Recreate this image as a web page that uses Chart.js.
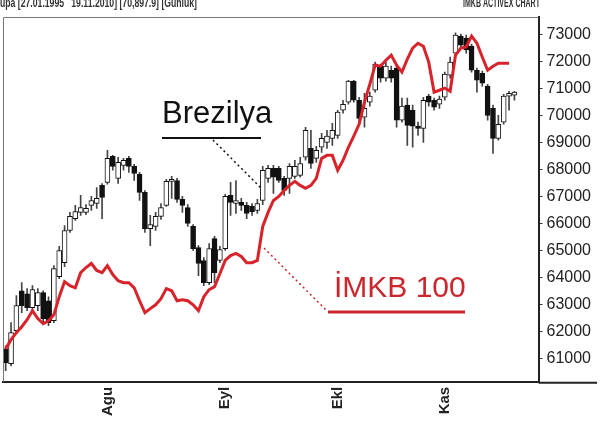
<!DOCTYPE html>
<html>
<head>
<meta charset="utf-8">
<script src="https://cdn.jsdelivr.net/npm/chart.js@4"></script>
<style>
  html, body { margin: 0; padding: 0; background: #fff; }
  #wrap { width: 600px; height: 423px; position: relative; }
</style>
</head>
<body>
<div id="wrap"><canvas id="chart"></canvas></div>
<script>
// trading-day slots on the x axis, month names at first day of month
const slotCount = 100;
const monthTicks = [[19, 'Agu'], [41, 'Eyl'], [62, 'Ekl'], [82, 'Kas']];

// price axis labels
const yTicks = [61000, 62000, 63000, 64000, 65000, 66000, 67000, 68000, 69000, 70000, 71000, 72000, 73000];

// Brezilya daily candles (rescaled to the right axis)
const brOpen = [61370, 60820, 62040, 63520, 63410, 62890, 62970, 63450, 63150, 62410,
  64040, 64560, 65750, 66190, 66420, 66420, 66680, 66750, 67420, 67530,
  68490, 67680, 68160, 68420, 68120, 67830, 67160, 65820, 65900, 66270,
  66680, 67570, 67600, 66900, 66600, 65900, 65120, 64640, 63820, 65450,
  64640, 65080, 67050, 66750, 66790, 66680, 66640, 66490, 66860, 67680,
  68050, 68050, 67680, 67680, 67750, 67790, 68460, 68790, 68420, 68830,
  69010, 69160, 69270, 70200, 70500, 71280, 70570, 69940, 70500, 70940,
  71830, 71390, 71680, 71760, 69830, 70390, 70200, 69610, 69530, 70720,
  70570, 70420, 70680, 71500, 72310, 72940, 72870, 72570, 71680, 71570,
  71090, 70270, 69160, 69760, 70720, 70760];
const brHigh = [61480, 62340, 63340, 63820, 63600, 63710, 63600, 63520, 63300, 64450,
  65160, 65930, 66420, 66680, 67050, 66710, 67010, 67340, 67490, 68720,
  68530, 68460, 68420, 68490, 68200, 67900, 67230, 66310, 66420, 66750,
  67640, 67750, 67680, 67010, 66710, 65970, 65190, 64750, 65270, 65530,
  65160, 67090, 67530, 67600, 66940, 66790, 66750, 66900, 68120, 68160,
  68160, 68120, 67750, 68230, 68350, 68460, 69570, 69460, 68860, 69350,
  69460, 69720, 70200, 70570, 71310, 71310, 70680, 70830, 70870, 71980,
  71910, 71980, 71830, 71830, 70650, 70650, 70390, 69760, 70680, 70790,
  70650, 70720, 71610, 72170, 73060, 73020, 72980, 72650, 71760, 71650,
  71160, 70390, 70010, 70790, 70900, 70900];
const brLow = [60560, 60740, 61930, 62710, 62780, 62710, 62780, 62340, 62230, 62340,
  63970, 64410, 65680, 66120, 66310, 66340, 66490, 66570, 66190, 67460,
  67980, 67490, 67980, 67900, 67600, 66860, 65680, 65190, 65750, 66160,
  66640, 66940, 66790, 66420, 65900, 65010, 64080, 63710, 63750, 63820,
  64560, 65010, 66310, 66380, 66490, 66190, 66310, 66380, 66710, 67530,
  67120, 67530, 67050, 67120, 67680, 67720, 68350, 68050, 68270, 68640,
  68790, 68900, 69160, 70090, 70420, 70500, 69760, 69570, 70350, 70870,
  71240, 71280, 71240, 69570, 69760, 68900, 68830, 69270, 69010, 70350,
  70200, 70270, 70570, 71390, 72240, 72500, 72310, 71610, 70870, 71090,
  69830, 68600, 69090, 69680, 70200, 70570];
const brClose = [60850, 61970, 62970, 62970, 62890, 63560, 63450, 62490, 62340, 64340,
  65010, 65750, 66270, 66450, 66600, 66570, 66860, 66940, 66970, 68420,
  68120, 68270, 68350, 68120, 67860, 67160, 65820, 65970, 66270, 66600,
  67570, 67640, 66900, 66680, 66010, 65080, 64530, 63820, 65080, 64190,
  65040, 67010, 66790, 66860, 66680, 66380, 66450, 66750, 67980, 68050,
  67720, 67600, 67230, 68120, 68120, 68230, 69460, 68230, 68720, 69160,
  69240, 69460, 70130, 70420, 71280, 70570, 69900, 70270, 70720, 71910,
  71390, 71830, 71390, 69830, 70350, 69640, 69610, 69530, 70570, 70500,
  70310, 70610, 71540, 71980, 72980, 72610, 72430, 71680, 71310, 71200,
  70010, 69160, 69680, 70720, 70830, 70870];

// IMKB 100 daily close (rescaled to the same axis)
const imkb = [61370, 61710, 61970, 62190, 62450, 62780, 62490, 62300, 62410, 62630,
  63300, 63860, 63710, 63630, 64190, 64380, 64530, 64270, 64190, 64450,
  64120, 63890, 63820, 63820, 63630, 63150, 62710, 62860, 63000, 63230,
  63600, 63520, 63150, 63190, 63150, 63000, 62780, 63300, 63560, 63670,
  64150, 64640, 64820, 64900, 64790, 64560, 64560, 64640, 65900, 66420,
  66860, 67010, 67230, 67420, 67570, 67420, 67310, 67420, 67680, 68420,
  68530, 68530, 67980, 68350, 68830, 69240, 69680, 70500, 71160, 71870,
  71830, 72050, 72240, 71870, 71610, 72090, 72500, 72680, 72570, 71980,
  70870, 70940, 71020, 70900, 72240, 72500, 72540, 72940, 72680, 72170,
  71680, 71830, 71940, 71940, 71940, null];

const yMin = 60150;
const yMax = 73650;

const labels = Array.from({ length: slotCount }, (_, i) => {
  const m = monthTicks.find(t => t[0] === i);
  return m ? m[1] : '';
});

// squeeze a string into a given width (the header uses a narrow face)
function fitText(ctx, text, x, y, width) {
  const w = ctx.measureText(text).width;
  ctx.save();
  ctx.translate(x, y);
  ctx.scale(width / w, 1);
  ctx.fillText(text, 0, 0);
  ctx.restore();
}

const decorations = {
  id: 'decorations',
  beforeDraw(chart) {
    const ctx = chart.ctx;
    ctx.save();
    ctx.fillStyle = '#fff';
    ctx.fillRect(0, 0, chart.width, chart.height);
    ctx.restore();
  },
  afterDraw(chart) {
    const { ctx, chartArea: a } = chart;
    ctx.save();

    // thin frame on left and top
    ctx.strokeStyle = '#777';
    ctx.lineWidth = 1;
    ctx.beginPath();
    ctx.moveTo(a.left + 0.5, a.bottom);
    ctx.lineTo(a.left + 0.5, a.top + 0.5);
    ctx.lineTo(a.right, a.top + 0.5);
    ctx.stroke();

    // bottom axis line runs on under the price labels
    ctx.strokeStyle = '#222';
    ctx.lineWidth = 2;
    ctx.beginPath();
    ctx.moveTo(a.right, a.bottom + 1);
    ctx.lineTo(597, a.bottom + 1);
    ctx.stroke();

    // header strip, cut off by the top edge
    ctx.fillStyle = '#333';
    ctx.font = 'bold 13px "Liberation Sans"';
    ctx.textBaseline = 'alphabetic';
    fitText(ctx, 'upa [27.01.1995   19.11.2010] [70,897.9] [Günlük]', 0, 7, 197);
    fitText(ctx, 'IMKB ACTIVEX CHART', 463, 7, 77);

    // Brezilya label
    ctx.fillStyle = '#111';
    ctx.font = '31px "Liberation Sans"';
    ctx.fillText('Brezilya', 162, 123);
    ctx.strokeStyle = '#111';
    ctx.lineWidth = 2;
    ctx.beginPath();
    ctx.moveTo(162, 138);
    ctx.lineTo(261, 138);
    ctx.stroke();
    ctx.setLineDash([2, 3]);
    ctx.lineWidth = 1.5;
    ctx.beginPath();
    ctx.moveTo(213, 140);
    ctx.lineTo(261, 188);
    ctx.stroke();
    ctx.setLineDash([]);

    // IMKB 100 label
    ctx.fillStyle = '#c9262d';
    ctx.font = '30px "Liberation Sans"';
    ctx.fillText('İMKB 100', 334, 297);
    ctx.strokeStyle = '#c9262d';
    ctx.lineWidth = 3;
    ctx.beginPath();
    ctx.moveTo(328, 312);
    ctx.lineTo(465, 312);
    ctx.stroke();
    ctx.setLineDash([2, 3]);
    ctx.lineWidth = 1.5;
    ctx.beginPath();
    ctx.moveTo(264, 248);
    ctx.lineTo(327, 311);
    ctx.stroke();

    ctx.restore();
  }
};

new Chart(document.getElementById('chart'), {
  type: 'bar',
  data: {
    labels: labels,
    datasets: [
      {
        type: 'line',
        label: 'İMKB 100',
        data: imkb,
        borderColor: '#d8232a',
        borderWidth: 3,
        pointRadius: 0,
        tension: 0,
        order: 0
      },
      {
        label: 'Brezilya body',
        data: brOpen.map((o, i) => [o, brClose[i]]),
        backgroundColor: brOpen.map((o, i) => brClose[i] >= o ? '#fff' : '#111'),
        borderColor: '#111',
        borderWidth: 1,
        borderSkipped: false,
        barThickness: 5,
        grouped: false,
        order: 1
      },
      {
        label: 'Brezilya wick',
        data: brLow.map((l, i) => [l, brHigh[i]]),
        backgroundColor: '#444',
        barThickness: 1,
        grouped: false,
        order: 2
      }
    ]
  },
  options: {
    responsive: true,
    maintainAspectRatio: false,
    animation: false,
    layout: { padding: { left: 3, top: 17, right: 5, bottom: 2 } },
    plugins: {
      legend: { display: false },
      tooltip: { enabled: false }
    },
    scales: {
      x: {
        offset: true,
        grid: { display: true, drawOnChartArea: false, drawTicks: false },
        border: { display: true, color: '#222', width: 2 },
        ticks: {
          autoSkip: false,
          minRotation: 90,
          maxRotation: 90,
          padding: 5,
          color: '#222',
          font: { family: 'Liberation Sans', size: 15, weight: 'bold' }
        }
      },
      y: {
        position: 'right',
        min: yMin,
        max: yMax,
        afterBuildTicks: axis => { axis.ticks = yTicks.map(v => ({ value: v })); },
        grid: { drawOnChartArea: false, drawTicks: true, tickLength: 4, color: '#333' },
        border: { display: true, color: '#222', width: 2 },
        ticks: {
          padding: 4,
          color: '#222',
          font: { family: 'Liberation Sans', size: 16 },
          callback: v => String(v)
        }
      }
    }
  },
  plugins: [decorations]
});
</script>
</body>
</html>
